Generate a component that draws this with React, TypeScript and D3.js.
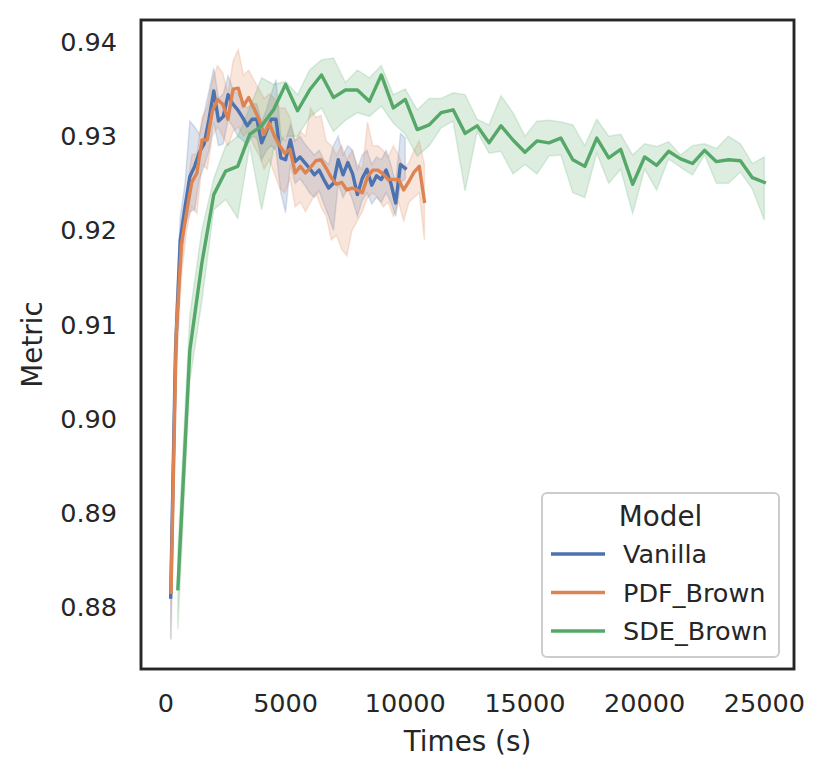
import React from "react";
import * as d3 from "d3";

// seaborn lineplot: mean line + ci band per model
const models = ["Vanilla", "PDF_Brown", "SDE_Brown"];
const colors = ["#4c72b0", "#dd8452", "#55a868"];

const vanillaTimes = [
  200, 400, 600, 800, 1000, 1200, 1400, 1600, 1800, 2000,
  2200, 2400, 2600, 2800, 3000, 3200, 3400, 3600, 3800, 4000,
  4200, 4400, 4600, 4800, 5000, 5200, 5400, 5600, 5800, 6000,
  6200, 6400, 6600, 6800, 7000, 7200, 7400, 7600, 7800, 8000,
  8200, 8400, 8600, 8800, 9000, 9200, 9400, 9600, 9800, 10000,
];
const vanillaMean = [
  0.8811, 0.907, 0.919, 0.9225, 0.9257, 0.9268, 0.9283, 0.9292, 0.9318, 0.9348,
  0.9316, 0.9321, 0.9344, 0.9334, 0.9328, 0.932, 0.9311, 0.9318, 0.9318, 0.9293,
  0.9305, 0.9318, 0.9318, 0.9277, 0.9275, 0.9296, 0.9273, 0.9278, 0.9272, 0.9266,
  0.9259, 0.9264, 0.9254, 0.9245, 0.925, 0.9275, 0.9259, 0.9272, 0.926, 0.9238,
  0.9255, 0.9265, 0.9248, 0.9258, 0.9254, 0.9264, 0.925, 0.9229, 0.927, 0.9266,
];
const vanillaLow = [
  0.8766, 0.9035, 0.915, 0.9205, 0.922, 0.9222, 0.9255, 0.9268, 0.9285, 0.9315,
  0.929, 0.9292, 0.9318, 0.931, 0.93, 0.9296, 0.929, 0.93, 0.9298, 0.9275,
  0.9285, 0.929, 0.9285, 0.924, 0.9219, 0.927, 0.925, 0.9255, 0.9248, 0.924,
  0.9235, 0.9242, 0.9228, 0.9215, 0.92, 0.925, 0.9235, 0.9245, 0.9232, 0.9215,
  0.9232, 0.924, 0.9228, 0.9235, 0.923, 0.924, 0.923, 0.9215, 0.925, 0.9255,
];
const vanillaHigh = [
  0.8852, 0.9105, 0.9215, 0.925, 0.9316, 0.931, 0.9302, 0.9325, 0.9348, 0.9372,
  0.934, 0.9345, 0.9364, 0.935, 0.9345, 0.9338, 0.933, 0.9335, 0.9334, 0.9315,
  0.9328, 0.9345, 0.936, 0.93, 0.9295, 0.9312, 0.9295, 0.93, 0.9292, 0.9286,
  0.928, 0.9285, 0.9275, 0.927, 0.929, 0.93, 0.928, 0.929, 0.9285, 0.9265,
  0.928, 0.9285, 0.927, 0.9278, 0.9275, 0.9285, 0.927, 0.925, 0.9303, 0.9298,
];

const pdfTimes = [
  216, 432, 648, 864, 1080, 1296, 1512, 1728, 1944, 2160,
  2376, 2592, 2808, 3024, 3240, 3456, 3672, 3888, 4104, 4320,
  4536, 4752, 4968, 5184, 5400, 5616, 5832, 6048, 6264, 6480,
  6696, 6912, 7128, 7344, 7560, 7776, 7992, 8208, 8424, 8640,
  8856, 9072, 9288, 9504, 9720, 9936, 10152, 10368, 10584, 10800,
];
const pdfMean = [
  0.8816, 0.909, 0.9185, 0.9219, 0.9251, 0.9261, 0.9296, 0.9296, 0.9327, 0.9339,
  0.9334, 0.9318, 0.935, 0.9351, 0.9332, 0.9341, 0.933, 0.9318, 0.9302, 0.9314,
  0.93, 0.929, 0.9282, 0.9286, 0.9261, 0.9268, 0.9261, 0.9267, 0.9274, 0.9275,
  0.9266, 0.9256, 0.9249, 0.9251, 0.9243, 0.9245, 0.9243, 0.924, 0.9257, 0.9264,
  0.9264, 0.926, 0.9254, 0.9254, 0.9254, 0.9243, 0.9252, 0.9262, 0.9268, 0.9231,
];
const pdfLow = [
  0.8766, 0.905, 0.915, 0.92, 0.9225, 0.9218, 0.927, 0.9265, 0.93, 0.931,
  0.93, 0.929, 0.9305, 0.931, 0.93, 0.9305, 0.929, 0.928, 0.9265, 0.9275,
  0.926, 0.9245, 0.924, 0.9255, 0.9225, 0.923, 0.922, 0.923, 0.924, 0.9225,
  0.9215, 0.919, 0.9195, 0.918, 0.9173, 0.92, 0.921, 0.922, 0.9235, 0.924,
  0.9235, 0.9225, 0.923, 0.9215, 0.923, 0.921, 0.923, 0.9235, 0.924, 0.919,
];
const pdfHigh = [
  0.886, 0.912, 0.921, 0.924, 0.928, 0.9282, 0.932, 0.933, 0.936, 0.9375,
  0.9367, 0.9345, 0.938, 0.9392, 0.9365, 0.937, 0.936, 0.935, 0.934, 0.9345,
  0.934, 0.933, 0.933, 0.932, 0.9295, 0.9305, 0.93, 0.933, 0.932, 0.9322,
  0.9295, 0.929, 0.928, 0.929, 0.9275, 0.9285, 0.927, 0.9265, 0.9315, 0.929,
  0.929, 0.9285, 0.9278, 0.929, 0.928, 0.9265, 0.9272, 0.9285, 0.9295, 0.927,
];

const sdeTimes = [
  500, 1000, 1500, 2000, 2500, 3000, 3500, 4000, 4500, 5000,
  5500, 6000, 6500, 7000, 7500, 8000, 8500, 9000, 9500, 10000,
  10500, 11000, 11500, 12000, 12500, 13000, 13500, 14000, 14500, 15000,
  15500, 16000, 16500, 17000, 17500, 18000, 18500, 19000, 19500, 20000,
  20500, 21000, 21500, 22000, 22500, 23000, 23500, 24000, 24500, 25000,
];
const sdeMean = [
  0.882, 0.9073, 0.9165, 0.9238, 0.9263, 0.9268, 0.9302, 0.9311, 0.9328, 0.9355,
  0.9327, 0.9349, 0.9365, 0.9341, 0.9349, 0.9349, 0.9337, 0.9365, 0.933, 0.9339,
  0.9307, 0.9312, 0.9325, 0.9328, 0.9303, 0.9311, 0.9293, 0.9311, 0.9296, 0.9283,
  0.9295, 0.9293, 0.9298, 0.9275, 0.9268, 0.9298, 0.9277, 0.9286, 0.9249, 0.9278,
  0.9269, 0.9284, 0.9276, 0.9271, 0.9285, 0.9273, 0.9275, 0.9274, 0.9256, 0.9251,
];
const sdeLow = [
  0.8777, 0.904, 0.9125, 0.9222, 0.9233, 0.9213, 0.929, 0.9222, 0.9286, 0.93,
  0.93, 0.932, 0.933, 0.9305, 0.9317, 0.9325, 0.9321, 0.9332, 0.9314, 0.9302,
  0.9279, 0.929, 0.9309, 0.9316, 0.9242, 0.9305, 0.9282, 0.9284, 0.926, 0.927,
  0.926, 0.9279, 0.928, 0.924, 0.9235, 0.9282, 0.925, 0.9265, 0.9218, 0.9265,
  0.9243, 0.9276, 0.9267, 0.9259, 0.928, 0.925, 0.925, 0.9262, 0.9244, 0.9211,
];
const sdeHigh = [
  0.886, 0.911, 0.92, 0.9255, 0.929, 0.93, 0.933, 0.9362, 0.9355, 0.9358,
  0.9344, 0.937, 0.9381, 0.9383, 0.9357, 0.937, 0.9362, 0.9375, 0.9344, 0.935,
  0.9328, 0.934, 0.934, 0.9346, 0.9344, 0.9318, 0.9312, 0.9343, 0.9325, 0.93,
  0.9316, 0.9317, 0.9315, 0.9312, 0.929, 0.9318, 0.93, 0.9302, 0.928, 0.9292,
  0.9289, 0.9294, 0.928, 0.929, 0.9292, 0.9287, 0.93, 0.9292, 0.9271, 0.9278,
];

const xTicks = [0, 5000, 10000, 15000, 20000, 25000];
const yTicks = [0.88, 0.89, 0.9, 0.91, 0.92, 0.93, 0.94];

const W = 829;
const H = 779;
const frame = { left: 141, right: 794, top: 20, bottom: 669 };
const ink = "#262626";
const font = "DejaVu Sans, sans-serif";

const series = [
  { times: vanillaTimes, mean: vanillaMean, low: vanillaLow, high: vanillaHigh },
  { times: pdfTimes, mean: pdfMean, low: pdfLow, high: pdfHigh },
  { times: sdeTimes, mean: sdeMean, low: sdeLow, high: sdeHigh },
].map((s, k) => ({
  ...s,
  name: models[k],
  color: colors[k],
  rows: s.times.map((t, i) => ({ t, m: s.mean[i], lo: s.low[i], hi: s.high[i] })),
}));

// matplotlib-like 5% margins
const pad = ([a, b]: number[]) => [a - (b - a) * 0.05, b + (b - a) * 0.05];

export default function App() {
  const allT = series.flatMap((s) => s.times);
  const allV = series.flatMap((s) => [...s.low, ...s.high]);

  const x = d3
    .scaleLinear()
    .domain(pad(d3.extent(allT) as number[]))
    .range([frame.left, frame.right]);
  const y = d3
    .scaleLinear()
    .domain(pad(d3.extent(allV) as number[]))
    .range([frame.bottom, frame.top]);

  const line = d3
    .line<any>()
    .x((d) => x(d.t))
    .y((d) => y(d.m));
  const band = d3
    .area<any>()
    .x((d) => x(d.t))
    .y0((d) => y(d.lo))
    .y1((d) => y(d.hi));

  const legend = { x: 542, y: 493, w: 237, h: 164 };

  return (
    <svg
      width={W}
      height={H}
      style={{ position: "absolute", left: 0, top: 0, background: "#fff" }}
      fontFamily={font}
    >
      <rect width={W} height={H} fill="#fff" />
      <defs>
        <clipPath id="plot">
          <rect
            x={frame.left}
            y={frame.top}
            width={frame.right - frame.left}
            height={frame.bottom - frame.top}
          />
        </clipPath>
      </defs>

      <g clipPath="url(#plot)">
        {series.map((s) => (
          <path
            key={s.name + "-band"}
            d={band(s.rows)!}
            fill={s.color}
            fillOpacity={0.2}
            stroke={s.color}
            strokeOpacity={0.2}
            strokeWidth={1.5}
          />
        ))}
        {series.map((s) => (
          <path
            key={s.name}
            d={line(s.rows)!}
            fill="none"
            stroke={s.color}
            strokeWidth={3.4}
            strokeLinejoin="round"
            strokeLinecap="square"
          />
        ))}
      </g>

      <rect
        x={frame.left}
        y={frame.top}
        width={frame.right - frame.left}
        height={frame.bottom - frame.top}
        fill="none"
        stroke={ink}
        strokeWidth={2.9}
      />

      {yTicks.map((v) => (
        <text
          key={v}
          x={frame.left - 24}
          y={y(v)}
          textAnchor="end"
          dominantBaseline="central"
          fontSize={25.5}
          fill={ink}
        >
          {v.toFixed(2)}
        </text>
      ))}
      {xTicks.map((v) => (
        <text
          key={v}
          x={x(v)}
          y={frame.bottom + 43}
          textAnchor="middle"
          fontSize={25.5}
          fill={ink}
        >
          {v}
        </text>
      ))}

      <text
        x={(frame.left + frame.right) / 2}
        y={751}
        textAnchor="middle"
        fontSize={27.8}
        fill={ink}
      >
        Times (s)
      </text>
      <text
        transform={`translate(32.5,${(frame.top + frame.bottom) / 2}) rotate(-90)`}
        textAnchor="middle"
        dominantBaseline="central"
        fontSize={27.8}
        fill={ink}
      >
        Metric
      </text>

      <g>
        <rect
          x={legend.x}
          y={legend.y}
          width={legend.w}
          height={legend.h}
          rx={5}
          fill="#fff"
          fillOpacity={0.8}
          stroke="#cccccc"
          strokeWidth={2}
        />
        <text
          x={legend.x + legend.w / 2}
          y={legend.y + 23}
          textAnchor="middle"
          dominantBaseline="central"
          fontSize={27.8}
          fill={ink}
        >
          Model
        </text>
        {series.map((s, k) => {
          const cy = legend.y + 61 + k * 38.5;
          return (
            <g key={s.name + "-leg"}>
              <line
                x1={legend.x + 9}
                x2={legend.x + 63}
                y1={cy}
                y2={cy}
                stroke={s.color}
                strokeWidth={3.4}
              />
              <text
                x={legend.x + 81}
                y={cy}
                dominantBaseline="central"
                fontSize={25.5}
                fill={ink}
              >
                {s.name}
              </text>
            </g>
          );
        })}
      </g>
    </svg>
  );
}
